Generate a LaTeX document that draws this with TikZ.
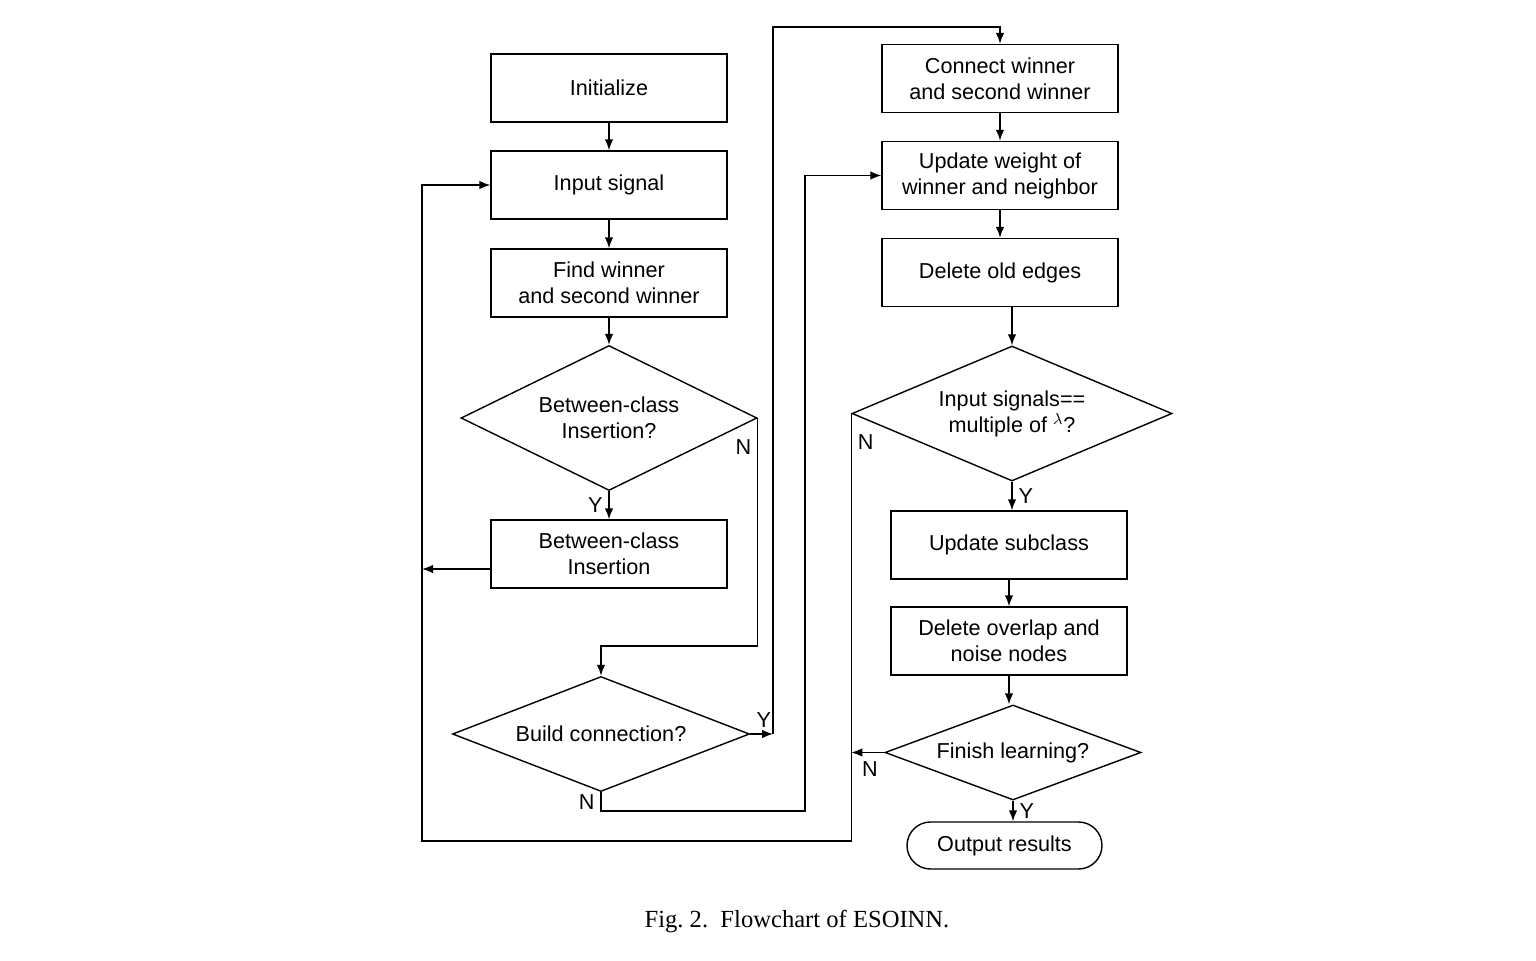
\documentclass[tikz,border=0pt]{standalone}
\usepackage{fontspec}
\setmainfont{Liberation Serif}
\setsansfont{Liberation Sans}
\usetikzlibrary{shapes.geometric,arrows.meta}
\begin{document}
\begin{tikzpicture}[>={Latex[length=2.2mm,width=1.7mm]},line width=0.8pt,
  txt/.style={font=\sffamily\fontsize{12.3}{14.8}\selectfont},
  proc/.style={txt,draw,rectangle,minimum width=4.72cm,minimum height=1.36cm,align=center},
  cond/.style={txt,draw,diamond,inner sep=0pt,align=center},
  term/.style={txt,draw,rectangle,rounded corners=0.47cm,minimum width=3.9cm,minimum height=0.94cm}]
\useasboundingbox (0,0) rectangle (30.72,-19.2);
% left column
\node[proc] (init) at (12.18,-1.76) {Initialize};
\node[proc] (input) at (12.18,-3.70) {Input signal};
\node[proc] (find) at (12.18,-5.66) {Find winner\\and second winner};
\node[cond,aspect=2.04,minimum width=5.92cm,minimum height=2.9cm] (bcq) at (12.18,-8.36) {Between-class\\Insertion?};
\node[proc] (bci) at (12.18,-11.08) {Between-class\\Insertion};
\node[cond,aspect=2.58,minimum width=5.94cm,minimum height=2.3cm] (build) at (12.02,-14.68) {Build connection?};
% right column
\node[proc] (conn) at (20.0,-1.57) {Connect winner\\and second winner};
\node[proc] (upd) at (20.0,-3.51) {Update weight of\\winner and neighbor};
\node[proc] (del) at (20.0,-5.45) {Delete old edges};
\node[cond,aspect=2.37,minimum width=6.4cm,minimum height=2.7cm] (lam) at (20.24,-8.27) {Input signals==\\multiple of $^{\lambda}$?};
\node[proc] (sub) at (20.18,-10.90) {Update subclass};
\node[proc] (ovl) at (20.18,-12.82) {Delete overlap and\\noise nodes};
\node[cond,aspect=2.69,minimum width=5.12cm,minimum height=1.9cm] (fin) at (20.26,-15.05) {Finish learning?};
\node[term] (out) at (20.09,-16.91) {Output results};
% corner points
\coordinate (lft) at (8.44,-16.82);
\coordinate (mid) at (12.02,-12.92);
\coordinate (ya) at (15.46,-14.68);
\coordinate (top) at (15.46,-0.54);
\coordinate (nb) at (16.10,-16.22);
% arrows
\draw[->] (init) -- (input);
\draw[->] (input) -- (find);
\draw[->] (find) -- (bcq);
\draw[->] (bcq) -- node[txt,left]{Y} (bci);
\draw[->] ([yshift=-0.3cm]bci.west) -- ([yshift=-0.3cm]bci.west -| lft);
\draw[->] (lam.west) -- (lam.west |- lft) -- (lft) |- (input.west);
\draw (lam.west) node[txt,below right,yshift=-0.3cm]{N};
\draw[->] (bcq.east) -- (bcq.east |- mid) -| (build.north);
\draw (bcq.east) node[txt,below left,yshift=-0.3cm]{N};
\draw[->] (build.east) -- node[txt,above,pos=0.6]{Y} (ya);
\draw[->] (ya) -- (top) -| (conn.north);
\draw[->] (build.south) -- node[txt,left]{N} (build.south |- nb) -- (nb) |- (upd.west);
\draw[->] (conn) -- (upd);
\draw[->] (upd) -- (del);
\draw[->] (lam.north |- del.south) -- (lam.north);
\draw[->] (lam.south) -- node[txt,right]{Y} (lam.south |- sub.north);
\draw[->] (sub) -- (ovl);
\draw[->] (ovl.south) -- (ovl.south |- fin.north);
\draw[->] (fin.west) -- (fin.west -| lam.west);
\draw (fin.west) node[txt,below left,yshift=-0.05cm]{N};
\draw[->] (fin.south) -- node[txt,right]{Y} (fin.south |- out.north);
% caption
\node[font=\fontsize{14}{16}\selectfont] (cap) at (15.94,-18.42) {Fig.\ 2.\ \ Flowchart of ESOINN.};
\end{tikzpicture}
\end{document}
